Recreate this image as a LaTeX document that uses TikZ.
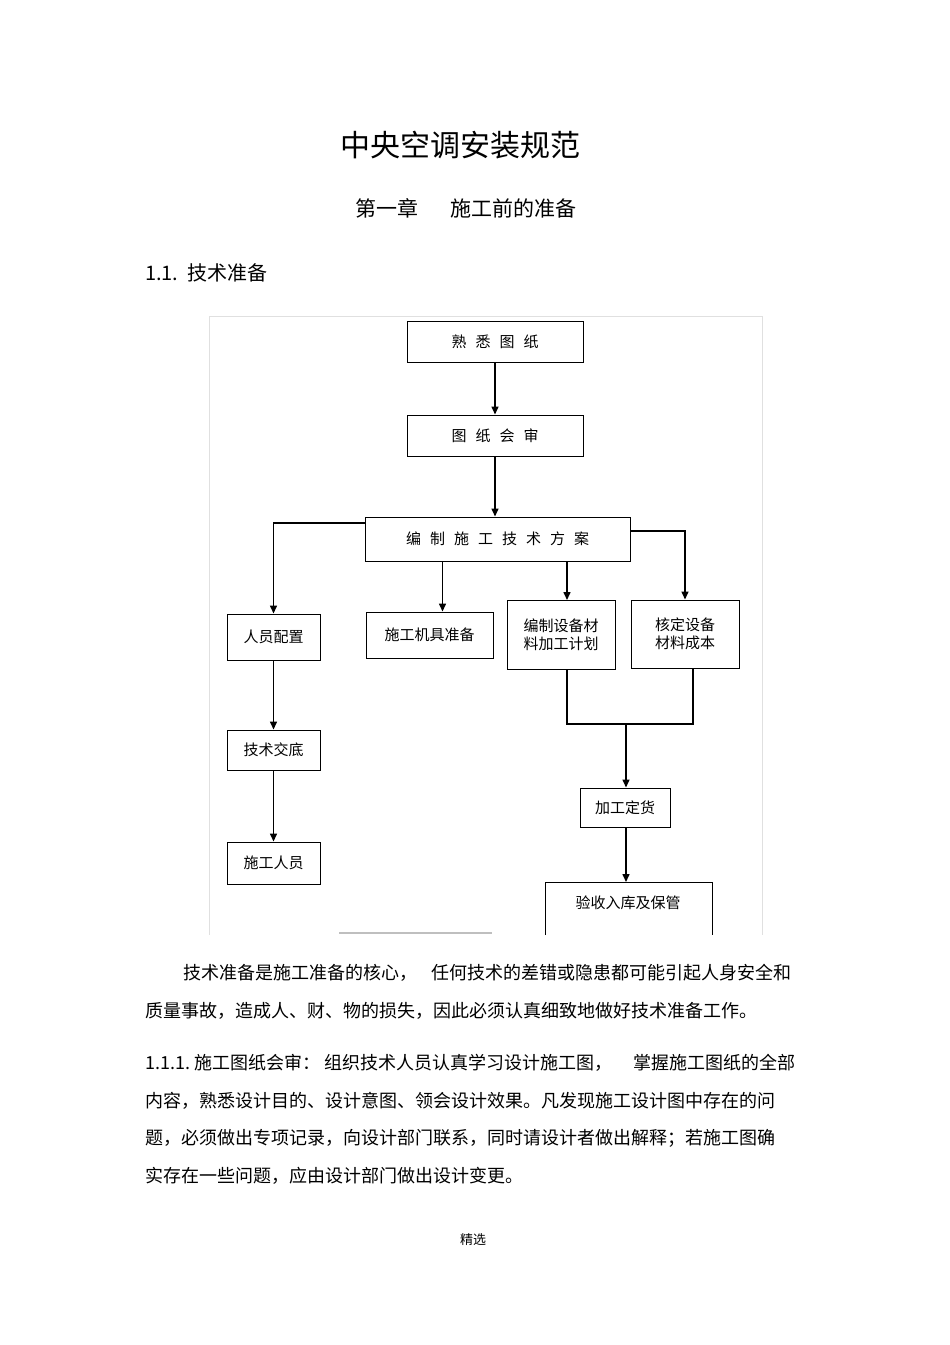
\documentclass[tikz,border=0pt]{standalone}
\usepackage{fontspec}
\setmainfont{Noto Sans CJK SC}
\usetikzlibrary{arrows.meta}
\begin{document}
\begin{tikzpicture}[x=1pt,y=-1pt,
  bx/.style={draw,line width=1pt,inner sep=0pt,font=\fontsize{15}{18}\selectfont,align=center},
  ar/.style={draw,line width=1.5pt,-{Triangle[length=8pt,width=7pt]}},
  ln/.style={draw,line width=1.2pt},
  txt/.style={anchor=west,inner sep=0pt,font=\fontsize{18}{22}\selectfont}]
\useasboundingbox (0,0) rectangle (950,1345);
\node[inner sep=0pt,font=\fontsize{30}{34}\selectfont] (title) at (460,145) {中央空调安装规范};
\node[inner sep=0pt,font=\fontsize{21}{25}\selectfont] (chap) at (466,208) {第一章\hspace{1.5em}施工前的准备};
\node[inner sep=0pt,anchor=west,font=\fontsize{20}{24}\selectfont] (sec) at (145,273) {1.1.\ \ 技术准备};
\draw[black!12,line width=0.8pt] (209,935) -- (209,316) -- (762,316) -- (762,935);
\draw[black!25,line width=2pt] (339,933) -- (492,933);
\node[bx,minimum width=176,minimum height=41] (a) at (495,341.5) {熟\hspace{0.6em}悉\hspace{0.6em}图\hspace{0.6em}纸};
\node[bx,minimum width=176,minimum height=41] (b) at (495,435.5) {图\hspace{0.6em}纸\hspace{0.6em}会\hspace{0.6em}审};
\node[bx,minimum width=265,minimum height=44] (c) at (497.5,539) {编\hspace{0.6em}制\hspace{0.6em}施\hspace{0.6em}工\hspace{0.6em}技\hspace{0.6em}术\hspace{0.6em}方\hspace{0.6em}案};
\node[bx,minimum width=93,minimum height=46] (p1) at (273.5,637) {人员配置};
\node[bx,minimum width=127,minimum height=46] (p2) at (429.5,635) {施工机具准备};
\node[bx,minimum width=108,minimum height=69] (p3) at (561,634.5) {编制设备材\\料加工计划};
\node[bx,minimum width=108,minimum height=68] (p4) at (685,634) {核定设备\\材料成本};
\node[bx,minimum width=93,minimum height=40] (q1) at (273.5,750) {技术交底};
\node[bx,minimum width=93,minimum height=42] (q2) at (273.5,863) {施工人员};
\node[bx,minimum width=90,minimum height=39] (r1) at (625,807.5) {加工定货};
\coordinate (r2) at (628,882);
\draw[line width=1pt] (545,935) -- (545,882) -- (712,882) -- (712,935);
\node[inner sep=0pt,font=\fontsize{15}{18}\selectfont] (r2t) at (628,903) {验收入库及保管};
\path[ar] (a) -- (b);
\path[ar] (b) -- (b|-c.north);
\path[ar] (c.west|-0,523) -| (p1.north);
\path[ar] (c.south-|p2) ++(13,0) -- ([xshift=13pt]p2.north);
\path[ar] (c.south-|567,0) -- (567,600);
\path[ar] (c.east|-0,531) -| (p4.north);
\path[ln] (567,669) -- (567,724) -- (693,724) -- (693,668);
\coordinate (m) at (626,724);
\path[ar] (m) -- (r1.north-|m);
\path[ar] (p1) -- (q1);
\path[ar] (q1) -- (q2);
\path[ar] (r1.south-|m) -- (r2-|m);
\node[txt] (t1) at (183,973) {技术准备是施工准备的核心，\hspace{0.8em}任何技术的差错或隐患都可能引起人身安全和};
\node[txt] (t2) at (145,1011) {质量事故，造成人、财、物的损失，因此必须认真细致地做好技术准备工作。};
\node[txt] (t3) at (145,1063) {1.1.1.\ 施工图纸会审：\ 组织技术人员认真学习设计施工图，\hspace{1.2em}掌握施工图纸的全部};
\node[txt] (t4) at (145,1101) {内容，熟悉设计目的、设计意图、领会设计效果。凡发现施工设计图中存在的问};
\node[txt] (t5) at (145,1138) {题，必须做出专项记录，向设计部门联系，同时请设计者做出解释；若施工图确};
\node[txt] (t6) at (145,1176) {实存在一些问题，应由设计部门做出设计变更。};
\node[inner sep=0pt,font=\fontsize{13}{15}\selectfont] (foot) at (473,1240) {精选};
\end{tikzpicture}
\end{document}
